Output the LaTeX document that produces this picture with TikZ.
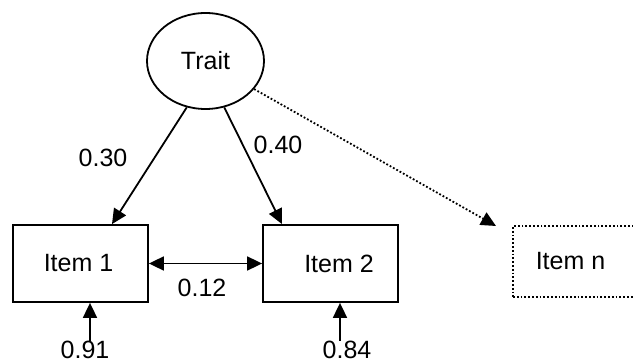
\documentclass[tikz,border=0pt]{standalone}
\usepackage{fontspec}
\setmainfont{Liberation Sans}
\usetikzlibrary{arrows.meta,shapes.geometric}
\begin{document}
\begin{tikzpicture}[x=1pt,y=-1pt,
  font=\fontsize{25}{29}\selectfont,
  every node/.style={inner sep=0pt},
  arr/.style={line width=1.8pt,-{Triangle[length=15pt,width=14pt]}},
  darr/.style={line width=1.8pt,{Triangle[length=15pt,width=14pt]}-{Triangle[length=15pt,width=14pt]}},
  itembox/.style={draw,line width=1.8pt,minimum width=135pt,minimum height=77pt},
  lbl/.style={inner sep=0pt}]
\useasboundingbox (0,0) rectangle (633,363);
\clip (0,0) rectangle (633,363);
\node[draw,ellipse,line width=1.8pt,minimum width=117pt,minimum height=96pt] (trait) at (205.5,61) {Trait};
\node[itembox] (item1) at (80.5,263.5) {\hspace*{-4pt}Item 1};
\node[itembox] (item2) at (330.5,263.5) {\hspace*{17pt}Item 2};
\node[itembox,dotted,line width=2pt,minimum height=71pt] (itemn) at (580.5,261.5) {Item n\hspace*{20pt}};
\draw[arr] (trait.248.5) -- ([xshift=31.5pt]item1.north);
\draw[arr] (trait.292.5) -- ([xshift=-48.5pt]item2.north);
\draw[arr,dotted] (trait.330) -- ([xshift=-16pt,yshift=-1pt]itemn.north west);
\draw[darr] (item1.east) -- (item2.west);
\node[lbl] (l30) at (103,158) {0.30};
\node[lbl] (l40) at (278,145) {0.40};
\node[lbl] (l12) at (202,288) {0.12};
\node[lbl,anchor=north] (e1) at (85,341) {0.91};
\node[lbl,anchor=north] (e2) at (347,341) {0.84};
\draw[arr] ([xshift=5pt]e1.north) -- ([xshift=9.5pt]item1.south);
\draw[arr] ([xshift=-7pt]e2.north) -- ([xshift=9.5pt]item2.south);
\end{tikzpicture}
\end{document}
